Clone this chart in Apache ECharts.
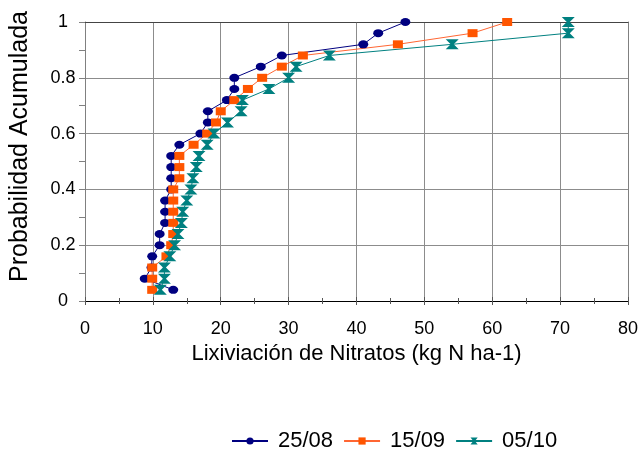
<!DOCTYPE html>
<html>
<head>
<meta charset="utf-8">
<script src="https://cdn.jsdelivr.net/npm/echarts@6/dist/echarts.min.js"></script>
<style>
  html, body { margin: 0; padding: 0; background: #ffffff; }
  #chart { width: 641px; height: 451px; }
</style>
</head>
<body>
<div id="chart"></div>
<script>
// Cumulative probability levels (y) shared by the three sampling dates
const probabilidad = [0.04, 0.08, 0.12, 0.16, 0.20, 0.24, 0.28, 0.32, 0.36, 0.40,
                      0.44, 0.48, 0.52, 0.56, 0.60, 0.64, 0.68, 0.72, 0.76, 0.80,
                      0.84, 0.88, 0.92, 0.96, 1.00];

// Nitrate leaching (kg N ha-1) for each sampling date
const lix2508 = [13.0, 8.8, 9.8, 9.9, 11.0, 11.0, 11.8, 11.8, 11.8, 12.7,
                 12.7, 12.7, 12.7, 13.9, 17.0, 18.1, 18.1, 20.9, 22.0, 22.0,
                 25.9, 29.0, 41.0, 43.2, 47.2];
const lix1509 = [9.9, 9.9, 9.9, 12.0, 12.7, 13.0, 13.0, 13.0, 13.0, 13.0,
                 13.9, 13.9, 13.9, 16.0, 18.0, 19.3, 20.0, 22.0, 24.0, 26.1,
                 29.0, 32.1, 46.1, 57.1, 62.2];
const lix0510 = [11.1, 11.7, 11.7, 12.5, 13.2, 13.7, 14.2, 14.4, 15.0, 15.6,
                 15.9, 16.4, 16.8, 18.0, 19.0, 21.0, 23.0, 23.2, 27.1, 30.0,
                 31.1, 36.0, 54.1, 71.2, 71.2];

const fechas = ['25/08', '15/09', '05/10'];

const pairs = (xs) => xs.map((x, i) => [x, probabilidad[i]]);

const FONT = '"Liberation Sans", Arial, sans-serif';
const hourglass = 'path://M0,0 L13,0 L8,5 L13,10 L0,10 L5,5 Z';

const chart = echarts.init(document.getElementById('chart'), null, { renderer: 'canvas' });

const baseX = {
  type: 'value', min: 0, max: 80, interval: 10
};

chart.setOption({
  animation: false,
  backgroundColor: '#ffffff',
  textStyle: { fontFamily: FONT },
  grid: { left: 83, right: 11, top: 22, bottom: 150, containLabel: false },
  xAxis: [
    Object.assign({}, baseX, {
      position: 'bottom',
      name: 'Lixiviación de Nitratos (kg N ha-1)',
      nameLocation: 'middle',
      nameGap: 42,
      nameTextStyle: { color: '#000', fontSize: 22, fontFamily: FONT },
      axisLine: { show: true, onZero: false, lineStyle: { color: '#000', width: 1 } },
      axisTick: { show: true, inside: false, length: 4, lineStyle: { color: '#555' } },
      minorTick: { show: true, splitNumber: 2, length: 3, lineStyle: { color: '#555' } },
      axisLabel: { color: '#000', fontSize: 18, margin: 19, fontFamily: FONT },
      splitLine: { show: true, lineStyle: { color: '#8c8c8c', width: 1 } }
    }),
    // second copy of the bottom axis so the ticks cross the axis line
    Object.assign({}, baseX, {
      position: 'bottom',
      axisLine: { show: false, onZero: false },
      axisTick: { show: true, inside: true, length: 4, lineStyle: { color: '#555' } },
      minorTick: { show: true, splitNumber: 2, length: 3, lineStyle: { color: '#555' } },
      axisLabel: { show: false },
      splitLine: { show: false }
    }),
    // top frame line
    Object.assign({}, baseX, {
      position: 'top',
      axisLine: { show: true, onZero: false, lineStyle: { color: '#444', width: 1 } },
      axisTick: { show: false },
      axisLabel: { show: false },
      splitLine: { show: false }
    })
  ],
  yAxis: [
    {
      type: 'value', min: 0, max: 1, interval: 0.2,
      position: 'left',
      name: 'Probabilidad Acumulada',
      nameLocation: 'middle',
      nameGap: 52,
      nameTextStyle: { color: '#000', fontSize: 25, fontFamily: FONT, padding: [0, 0, 0, 30] },
      axisLine: { show: true, onZero: false, lineStyle: { color: '#808080', width: 1 } },
      axisTick: { show: true, inside: false, length: 6, lineStyle: { color: '#808080' } },
      minorTick: { show: true, splitNumber: 2, length: 6, lineStyle: { color: '#808080' } },
      axisLabel: { color: '#000', fontSize: 18, align: 'center', margin: 22, fontFamily: FONT },
      splitLine: { show: true, lineStyle: { color: '#8c8c8c', width: 1 } }
    },
    // right frame line
    {
      type: 'value', min: 0, max: 1, interval: 0.2,
      position: 'right',
      axisLine: { show: true, onZero: false, lineStyle: { color: '#808080', width: 1 } },
      axisTick: { show: false },
      axisLabel: { show: false },
      splitLine: { show: false }
    }
  ],
  legend: {
    left: 226,
    top: 425,
    itemWidth: 36,
    itemHeight: 9,
    itemGap: 10,
    textStyle: { color: '#000', fontSize: 22, fontFamily: FONT, padding: [0, 0, 0, 5] },
    data: fechas
  },
  series: [
    {
      name: fechas[0], type: 'line', data: pairs(lix2508),
      symbol: 'circle', symbolSize: [10, 8],
      lineStyle: { color: '#000080', width: 1 },
      itemStyle: { color: '#000080' }
    },
    {
      name: fechas[1], type: 'line', data: pairs(lix1509),
      symbol: 'rect', symbolSize: [10, 8],
      lineStyle: { color: '#ff6633', width: 1 },
      itemStyle: { color: '#ff5500' }
    },
    {
      name: fechas[2], type: 'line', data: pairs(lix0510),
      symbol: hourglass, symbolSize: [13, 10], symbolKeepAspect: false,
      lineStyle: { color: '#008080', width: 1 },
      itemStyle: { color: '#008080' }
    }
  ]
});
</script>
</body>
</html>
